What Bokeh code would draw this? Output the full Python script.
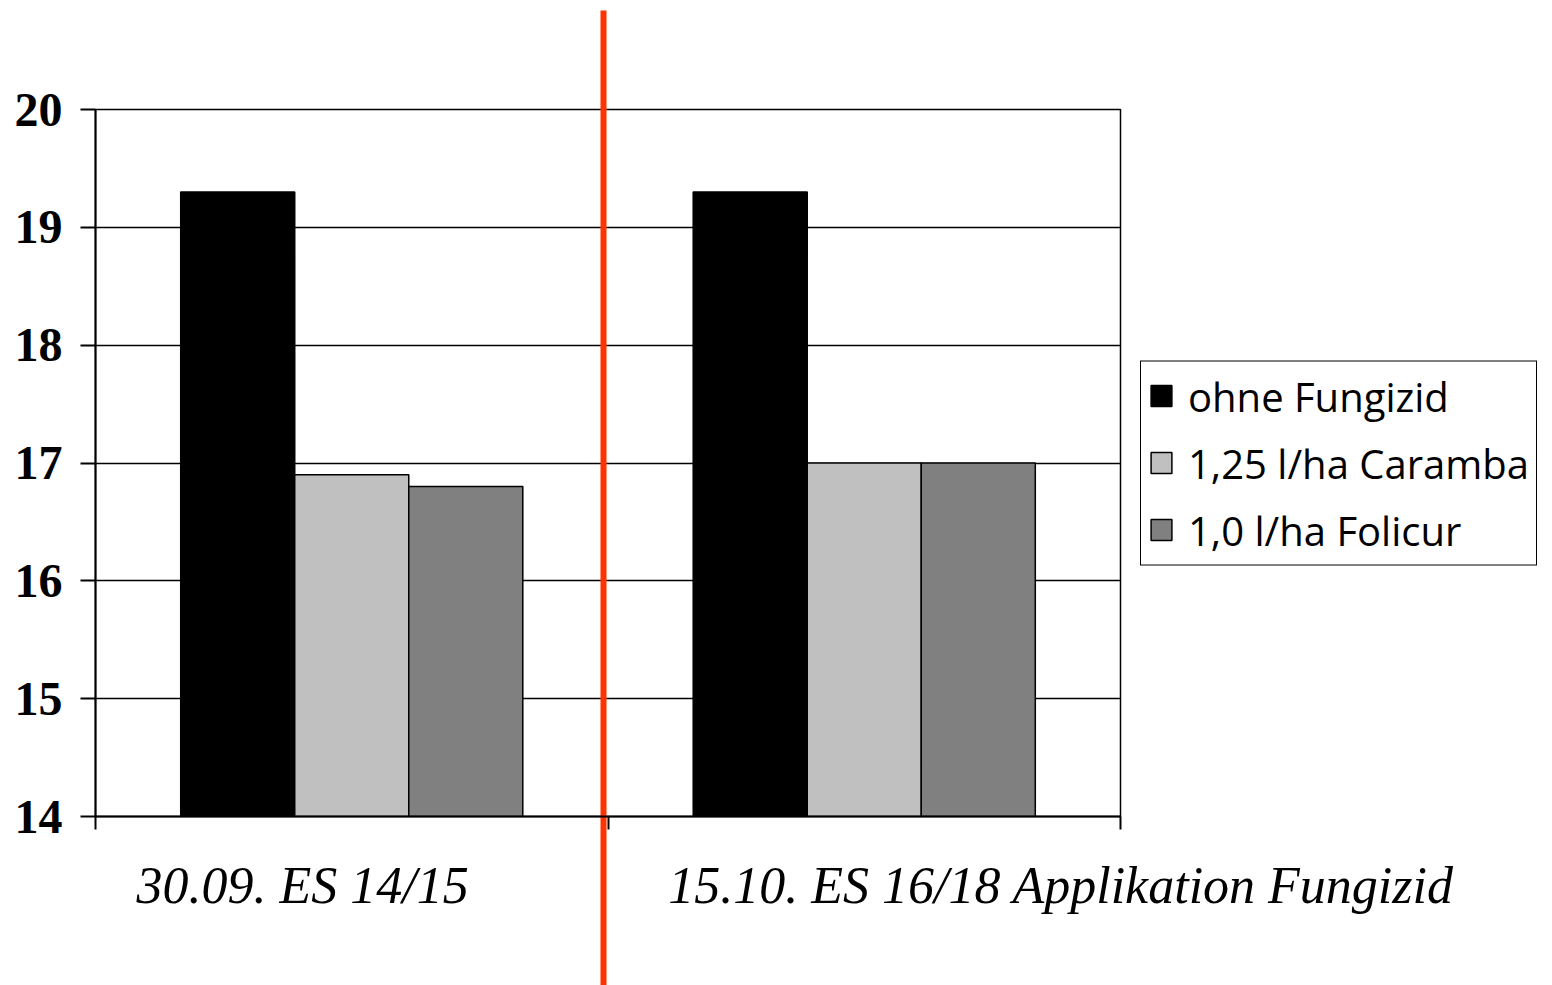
from bokeh.plotting import figure
from bokeh.models import (Range1d, FixedTicker, Legend, LegendItem, LinearAxis,
                          ColumnDataSource, CustomJSTickFormatter)
from bokeh.transform import dodge
from bokeh.embed import file_html
from bokeh.resources import INLINE

# ---- data ----
categories = ["30.09. ES 14/15", "15.10. ES 16/18 Applikation Fungizid"]
series_names = ["ohne Fungizid", "1,25 l/ha Caramba", "1,0 l/ha Folicur"]
ohne_fungizid = [19.3, 19.3]
caramba = [16.9, 17.0]
folicur = [16.8, 17.0]
y_ticks = [14, 15, 16, 17, 18, 19, 20]

# ---- style ----
colors = ["#000000", "#C0C0C0", "#808080"]
bar_offsets = [-0.2225, 0.0, 0.2225]
bar_width = 0.2225
label_shift = [-0.096, 0.384]      # category-label shift, in category widths
separator_shift = -0.008           # red separator relative to the category boundary

n = len(categories)
centers = [i + 0.5 for i in range(n)]
src = ColumnDataSource(dict(x=centers, ohne=ohne_fungizid, car=caramba, fol=folicur))

p = figure(frame_width=1025, frame_height=707,
           x_range=Range1d(0, n), y_range=Range1d(y_ticks[0], y_ticks[-1]),
           output_backend="svg", toolbar_location=None, x_axis_location=None,
           min_border_left=95, min_border_right=432, min_border_top=109, min_border_bottom=169)
p.background_fill_color = "white"
p.border_fill_color = "white"
p.outline_line_color = "black"
p.outline_line_alpha = 1.0
p.outline_line_width = 1.5

renderers = []
for col, c, off in zip(["ohne", "car", "fol"], colors, bar_offsets):
    r = p.vbar(x=dodge("x", off), top=col, bottom=y_ticks[0], width=bar_width,
               source=src, fill_color=c, line_color="black", line_width=1.5)
    renderers.append(r)

# y axis
p.yaxis.ticker = FixedTicker(ticks=y_ticks)
p.yaxis.major_label_text_font = "Liberation Serif"
p.yaxis.major_label_text_font_style = "bold"
p.yaxis.major_label_text_font_size = "48px"
p.yaxis.major_label_text_color = "black"
p.yaxis.major_tick_out = 15
p.yaxis.major_tick_in = 0
p.yaxis.minor_tick_line_color = None
p.yaxis.axis_line_width = 2
p.yaxis.major_tick_line_width = 2
p.yaxis.major_label_standoff = 18

p.ygrid.ticker = FixedTicker(ticks=y_ticks)
p.ygrid.grid_line_color = "black"
p.ygrid.grid_line_width = 1.5
p.xgrid.grid_line_color = None

# x axis: boundary ticks (minor) + shifted category labels (major)
label_pos = [c + s for c, s in zip(centers, label_shift)]
xax = LinearAxis(ticker=FixedTicker(ticks=label_pos, minor_ticks=list(range(n + 1))),
                 formatter=CustomJSTickFormatter(args=dict(names=categories),
                                                 code="return names[index];"),
                 major_tick_out=0, major_tick_in=0, minor_tick_out=13, minor_tick_in=0,
                 minor_tick_line_color="black", minor_tick_line_width=2,
                 axis_line_color="black", axis_line_width=2,
                 major_label_text_font="Liberation Serif", major_label_text_font_style="italic",
                 major_label_text_font_size="52px", major_label_text_color="black",
                 major_label_standoff=27)
p.add_layout(xax, "below")

# red separator line, drawn as one long tick of an otherwise empty top axis
sep_axis = LinearAxis(ticker=FixedTicker(ticks=[n / 2 + separator_shift], minor_ticks=[]),
                      major_tick_out=99, major_tick_in=876,
                      major_tick_line_color="#FF3300", major_tick_line_width=6,
                      axis_line_color=None, major_label_text_color=None,
                      major_label_text_font_size="1px", minor_tick_line_color=None)
p.add_layout(sep_axis, "above")

legend = Legend(items=[LegendItem(label=nm, renderers=[r]) for nm, r in zip(series_names, renderers)],
                location="center_left", label_text_font="Open Sans", label_text_font_size="40px",
                label_text_color="black", glyph_width=26, glyph_height=26, label_standoff=14,
                spacing=12, padding=7, margin=20,
                border_line_color="black", border_line_alpha=1.0, border_line_width=1.5,
                background_fill_color="white", background_fill_alpha=1.0)
p.add_layout(legend, "right")

open("out.html", "w").write(file_html(p, INLINE))
